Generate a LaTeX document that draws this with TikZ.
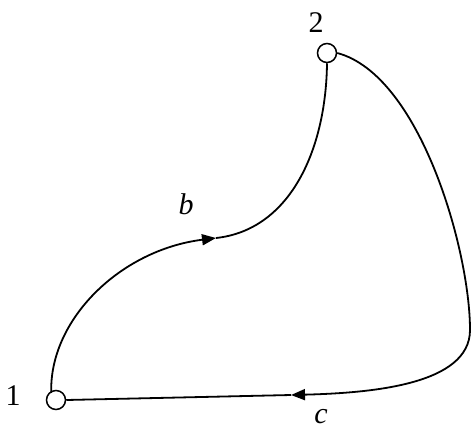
\documentclass[tikz,border=0pt]{standalone}
\usepackage{fontspec}
\setmainfont{Liberation Serif}
\usetikzlibrary{arrows.meta}
\begin{document}
\begin{tikzpicture}[x=1pt,y=-1pt,
  vertex/.style={draw,circle,line width=1.5pt,minimum size=19pt,inner sep=0pt,fill=white},
  edge/.style={line width=1.8pt},
  tip/.style={-{Triangle[length=14pt,width=11pt]}},
  lbl/.style={font=\fontsize{30}{36}\selectfont,anchor=base,inner sep=0pt}]
\useasboundingbox (0,0) rectangle (471,432);
\node[vertex] (n1) at (56,400) {};
\node[vertex] (n2) at (327,53) {};
\node[lbl] (l1) at (13,405) {1};
\node[lbl] (l2) at (316,32) {2};
\node[lbl] (lb) at (186,214) {\itshape b};
\node[lbl] (lc) at (321,423) {\itshape c};
\coordinate (mb) at (216,238);
\coordinate (rc) at (470,330);
\coordinate (mc) at (291,395);
\draw[edge,tip] (n1.north west) ++(2.5,0) .. controls (49,320) and (120,250) .. (mb);
\draw[edge] (mb) .. controls (290,230) and (326,150) .. (n2.south);
\draw[edge] (n2.east) .. controls (420,75) and (470,250) .. (rc);
\draw[edge,tip] (rc) .. controls (470,385) and (370,393) .. (mc);
\draw[edge] (mc) -- (n1.east);
\end{tikzpicture}
\end{document}
